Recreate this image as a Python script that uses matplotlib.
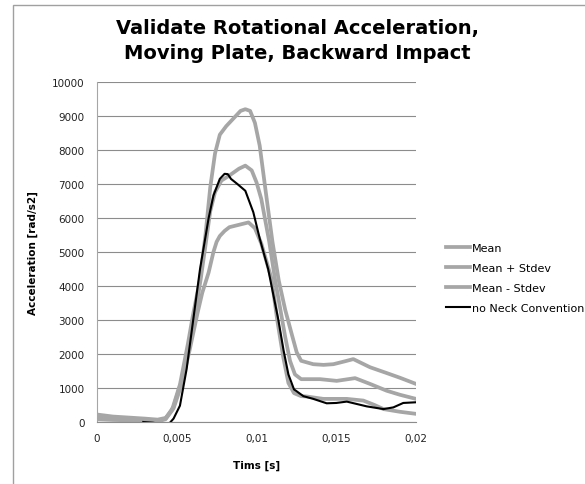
import matplotlib
matplotlib.use('Agg')
import matplotlib.pyplot as plt
from matplotlib.patches import Rectangle

# values (time in s, acceleration in rad/s2)
t_mean = [0, 0.001, 0.002, 0.003, 0.0038, 0.0043, 0.0048, 0.0053, 0.0058, 0.0062,
          0.0065, 0.0068, 0.0071, 0.0074, 0.0078, 0.0083, 0.0089, 0.0093, 0.0097,
          0.0100, 0.0103, 0.0108, 0.01116, 0.01150, 0.0118, 0.0121, 0.01241, 0.0128,
          0.01398, 0.01503, 0.01618, 0.01712, 0.01816, 0.0190, 0.0200]
mean = [150, 110, 90, 70, 40, 100, 450, 1200, 2300, 3300,
        4200, 5190, 6200, 6760, 7100, 7250, 7450, 7540, 7400,
        7050, 6560, 5300, 4200, 3300, 2500, 1800, 1400, 1260,
        1260, 1210, 1290, 1120, 920, 800, 680]

t_plus = [0, 0.001, 0.002, 0.003, 0.0038, 0.0043, 0.0047, 0.0052, 0.0057, 0.0060,
          0.00646, 0.0068, 0.0071, 0.0074, 0.0077, 0.0081, 0.0086, 0.0090, 0.0093,
          0.0096, 0.0099, 0.0102, 0.0106, 0.0110, 0.0114, 0.0118, 0.0122, 0.01252,
          0.0128, 0.01356, 0.01420, 0.01482, 0.01550, 0.01607, 0.01712, 0.01816,
          0.0190, 0.0200]
plus = [220, 160, 130, 100, 70, 120, 350, 1100, 2300, 3100,
        4200, 5500, 6900, 7900, 8450, 8700, 8950, 9150, 9200,
        9150, 8800, 8130, 6700, 5300, 4150, 3300, 2600, 2050,
        1800, 1700, 1680, 1700, 1780, 1850, 1610, 1440, 1300, 1120]

t_minus = [0, 0.001, 0.002, 0.003, 0.0038, 0.0043, 0.0048, 0.0053, 0.0058, 0.0063,
           0.0066, 0.0070, 0.0073, 0.0075, 0.0077, 0.0080, 0.0083, 0.0089, 0.0095,
           0.0099, 0.0103, 0.01095, 0.0113, 0.01168, 0.0120, 0.01235, 0.0128,
           0.01315, 0.01419, 0.01566, 0.0167, 0.0174, 0.01796, 0.0190, 0.0200]
minus = [80, 60, 50, 30, 20, 80, 400, 1100, 2100, 3200,
         3800, 4400, 5000, 5300, 5470, 5620, 5730, 5800, 5870,
         5700, 5250, 4200, 3000, 1900, 1150, 850, 760,
         750, 680, 680, 630, 500, 380, 300, 240]

t_neck = [0.0029, 0.0035, 0.0040, 0.0045, 0.0048, 0.0052, 0.00562, 0.00604, 0.00646,
          0.0070, 0.0073, 0.0077, 0.0080, 0.0082, 0.0084, 0.0088, 0.0093, 0.0098,
          0.0102, 0.01073, 0.01136, 0.0117, 0.0120, 0.01235, 0.01294, 0.01356,
          0.0144, 0.0150, 0.01566, 0.01691, 0.01796, 0.01858, 0.0192, 0.0200]
neck = [0, -20, -60, -60, 100, 480, 1560, 3030, 4500,
        6000, 6660, 7150, 7300, 7290, 7150, 7000, 6800, 6170,
        5400, 4500, 3030, 2100, 1400, 960, 760, 680,
        550, 560, 600, 460, 380, 430, 560, 580]

x_ticks = [0, 0.005, 0.01, 0.015, 0.02]
x_labels = ['0', '0,005', '0,01', '0,015', '0,02']
y_ticks = list(range(0, 10001, 1000))

gray = '#A6A6A6'

fig = plt.figure(figsize=(5.85, 4.85), dpi=100)
fig.patches.append(Rectangle((13 / 585, -0.1), 1.2, 1 - 6 / 485 + 0.1,
                             transform=fig.transFigure, fill=False,
                             edgecolor='#A0A0A0', linewidth=1))
ax = fig.add_axes([97 / 585, 1 - 423 / 485, 319 / 585, 340 / 485])

ax.plot(t_mean, mean, color=gray, lw=2.7, label='Mean', solid_joinstyle='round')
ax.plot(t_plus, plus, color=gray, lw=2.7, label='Mean + Stdev', solid_joinstyle='round')
ax.plot(t_minus, minus, color=gray, lw=2.7, label='Mean - Stdev', solid_joinstyle='round')
ax.plot(t_neck, neck, color='black', lw=1.5, label='no Neck Conventional',
        solid_joinstyle='round')

ax.set_xlim(0, 0.02)
ax.set_ylim(0, 10000)
ax.set_xticks(x_ticks)
ax.set_xticklabels(x_labels)
ax.set_yticks(y_ticks)
ax.tick_params(length=0, labelsize=7.5, colors='#222222')
ax.tick_params(axis='y', pad=9)
ax.tick_params(axis='x', pad=8)
ax.grid(axis='y', color='#8C8C8C', lw=0.8)
ax.set_axisbelow(True)
for s in ['top', 'right']:
    ax.spines[s].set_visible(False)
ax.spines['left'].set_color('#A6A6A6')
ax.spines['bottom'].set_color('#8C8C8C')

ax.set_xlabel('Tims [s]', fontsize=7.5, fontweight='bold', labelpad=12)
ax.set_ylabel('Acceleration [rad/s2]', fontsize=7.5, fontweight='bold', labelpad=10)

fig.text(297 / 585, 1 - 41 / 485,
         'Validate Rotational Acceleration,\nMoving Plate, Backward Impact',
         ha='center', va='center', fontsize=14, fontweight='bold', linespacing=1.4)

ax.legend(loc='center left', bbox_to_anchor=(1.08, 0.425), frameon=False,
          fontsize=8, handlelength=2.2, handletextpad=0.1, labelspacing=0.9,
          borderaxespad=0)

plt.savefig('out.png', dpi=100)
